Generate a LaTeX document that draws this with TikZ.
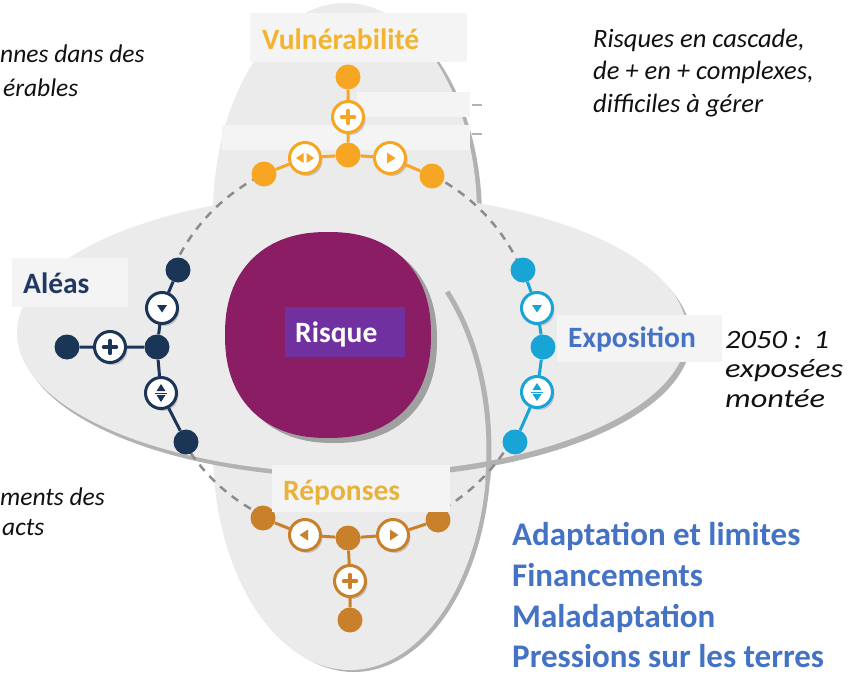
\documentclass[tikz,border=0pt]{standalone}
\usepackage{fontspec}
\setmainfont{Carlito}
\usetikzlibrary{shadows,calc}
\definecolor{petal}{HTML}{EBEBEB}
\definecolor{petalsh}{HTML}{B2B2B2}
\definecolor{lblbox}{HTML}{F4F4F4}
\definecolor{blobc}{HTML}{8A1D64}
\definecolor{blobsh}{HTML}{A0A0A0}
\definecolor{risqbox}{HTML}{7030A0}
\definecolor{vorange}{HTML}{F6A623}
\definecolor{vtxt}{HTML}{F3B32E}
\definecolor{anavy}{HTML}{1B3556}
\definecolor{atxt}{HTML}{1F3864}
\definecolor{ecyan}{HTML}{19A4D6}
\definecolor{etxt}{HTML}{4472C4}
\definecolor{rbrown}{HTML}{C9802B}
\definecolor{rtxt}{HTML}{E9B23C}
\definecolor{dashc}{HTML}{8C8C8C}
\definecolor{listblue}{HTML}{4472C4}
\definecolor{ittxt}{HTML}{111111}
\newcommand\lblfont{\fontsize{29.5}{31}\selectfont\bfseries}
\newcommand\itfnt{\fontsize{25.5}{30}\selectfont\itshape}
\newcommand\itbig{\fontsize{26.5}{30}\selectfont\itshape}
\newcommand\listfnt{\fontsize{33}{36}\selectfont\bfseries}
\newcommand\icplus[2]{\begin{scope}[shift={(#1)}]\draw[#2,line width=3.4pt,line cap=round] (-6.5,0)--(6.5,0) (0,-6.5)--(0,6.5);\end{scope}}
\newcommand\icdown[2]{\begin{scope}[shift={(#1)}]\fill[#2] (-5,-3)--(5,-3)--(0,4.5)--cycle;\end{scope}}
\newcommand\icud[2]{\begin{scope}[shift={(#1)}]\fill[#2] (-4.5,-2)--(4.5,-2)--(0,-9)--cycle (-4.5,2)--(4.5,2)--(0,9)--cycle;\draw[#2,line width=0.8pt] (-6,0)--(6,0);\end{scope}}
\newcommand\icright[2]{\begin{scope}[shift={(#1)}]\fill[#2] (-3,-5.5)--(-3,5.5)--(5.5,0)--cycle;\end{scope}}
\newcommand\icleft[2]{\begin{scope}[shift={(#1)}]\fill[#2] (3,-5.5)--(3,5.5)--(-5.5,0)--cycle;\end{scope}}
\newcommand\iclr[2]{\begin{scope}[shift={(#1)}]\fill[#2] (-1.5,-5)--(-1.5,5)--(-9,0)--cycle (1.5,-5)--(1.5,5)--(9,0)--cycle;\end{scope}}
\tikzset{
  dot/.style={circle,fill=#1,minimum size=25pt,inner sep=0pt},
  icon/.style={circle,draw=#1,line width=3pt,fill=white,minimum size=31pt,inner sep=0pt,
    drop shadow={opacity=0.35,shadow xshift=2pt,shadow yshift=-2.5pt}},
  link/.style={draw=#1,line width=3pt},
  ring/.style={draw=dashc,line width=2.5pt,dash pattern=on 8pt off 7pt},
  lbl/.style={font=\lblfont,inner sep=0pt,anchor=base west},
  itl/.style={font=\itfnt,text=ittxt,inner sep=0pt,anchor=base west},
  itr/.style={font=\itbig,text=ittxt,inner sep=0pt,anchor=base west},
  lst/.style={font=\listfnt,text=listblue,inner sep=0pt,anchor=base west},
}
\begin{document}
\begin{tikzpicture}[x=1pt,y=-1pt]
\useasboundingbox (0,0) rectangle (849,677);
\clip (0,0) rectangle (849,677);
\fill[white] (0,0) rectangle (849,677);
% top petal
\fill[petalsh] (350,218) ellipse[x radius=132,y radius=212];
\fill[petal] (345,215) ellipse[x radius=132,y radius=212];
% bottom petal
\fill[petalsh] (354,452) ellipse[x radius=137,y radius=220];
\fill[petal] (350,450) ellipse[x radius=137,y radius=220];
% horizontal petal
\fill[petalsh] (356,338) ellipse[x radius=335,y radius=140];
\fill[petal] (352,333) ellipse[x radius=335,y radius=140];
% right edge of the bottom petal, over the horizontal one
\draw[petalsh,line width=5pt] plot[domain=-46:8,samples=40] ({352+137*cos(\x)},{450+220*sin(\x)});
% faint label boxes
\fill[lblbox] (250,13) rectangle (467,62);
\fill[lblbox] (357,92) rectangle (470,117);
\fill[lblbox] (222,125) rectangle (470,150);
\draw[petalsh,line width=1.5pt] (472,105)--(482,105) (472,134)--(482,134);
\fill[lblbox] (12,258) rectangle (128,307);
\fill[lblbox] (557,315) rectangle (722,362);
% blob
\fill[blobsh] plot[variable=\t,domain=0.5:360.5,samples=121] ({334+103*sign(cos(\t))*pow(abs(cos(\t)),0.88)},{340+103*sign(sin(\t))*pow(abs(sin(\t)),0.88)}) -- cycle;
\fill[blobc] plot[variable=\t,domain=0.5:360.5,samples=121] ({328+103*sign(cos(\t))*pow(abs(cos(\t)),0.88)},{335+103*sign(sin(\t))*pow(abs(sin(\t)),0.88)}) -- cycle;
\fill[risqbox] (285,307) rectangle (405,357);
\node[lbl,text=white] (tR) at (295,342) {Risque};
% dashed ring
\draw[ring] plot[domain=-63.3:-23.1,samples=30] ({347+190*cos(\x)},{345+190*sin(\x)});
\draw[ring] plot[domain=30:62.5,samples=30] ({347+190*cos(\x)},{345+190*sin(\x)});
\draw[ring] plot[domain=115.9:148.9,samples=30] ({347+190*cos(\x)},{345+190*sin(\x)});
\draw[ring] plot[domain=203.9:244.1,samples=30] ({347+190*cos(\x)},{345+190*sin(\x)});
% Vulnerabilite branch
\node[dot=vorange] (VT) at (348,77) {};
\node[icon=vorange] (VP) at (348,117) {};
\node[dot=vorange] (V0) at (348,155) {};
\node[icon=vorange] (VIL) at (305,158) {};
\node[icon=vorange] (VIR) at (390,158) {};
\node[dot=vorange] (VL) at (264,174) {};
\node[dot=vorange] (VR) at (432,176) {};
\draw[link=vorange] (VL)--(VIL)--(V0)--(VIR)--(VR) (V0)--(VP)--(VT);
\icplus{VP}{vorange}\iclr{VIL}{vorange}\icright{VIR}{vorange}
% Aleas branch
\node[dot=anavy] (AT) at (178,270) {};
\node[icon=anavy] (AIT) at (162,308) {};
\node[dot=anavy] (A0) at (157,347) {};
\node[icon=anavy] (AIB) at (161,393) {};
\node[dot=anavy] (AB) at (186,442) {};
\node[icon=anavy] (AP) at (110,347) {};
\node[dot=anavy] (AL) at (67,347) {};
\draw[link=anavy] (AT)--(AIT)--(A0)--(AIB)--(AB) (A0)--(AP)--(AL);
\icdown{AIT}{anavy}\icud{AIB}{anavy}\icplus{AP}{anavy}
% Exposition branch
\node[dot=ecyan] (ET) at (523,270) {};
\node[icon=ecyan] (EIT) at (537,308) {};
\node[dot=ecyan] (E0) at (543,347) {};
\node[icon=ecyan] (EIB) at (537,392) {};
\node[dot=ecyan] (EB) at (515,442) {};
\draw[link=ecyan] (ET)--(EIT)--(E0)--(EIB)--(EB);
\icdown{EIT}{ecyan}\icud{EIB}{ecyan}
% Reponses branch
\node[dot=rbrown] (RL) at (263,518) {};
\node[icon=rbrown] (RIL) at (305,535) {};
\node[dot=rbrown] (R0) at (348,538) {};
\node[icon=rbrown] (RIR) at (393,535) {};
\node[dot=rbrown] (RR) at (438,520) {};
\node[icon=rbrown] (RP) at (350,581) {};
\node[dot=rbrown] (RB) at (350,620) {};
\draw[link=rbrown] (RL)--(RIL)--(R0)--(RIR)--(RR) (R0)--(RP)--(RB);
\icleft{RIL}{rbrown}\icright{RIR}{rbrown}\icplus{RP}{rbrown}
\fill[lblbox] (272,465) rectangle (450,512);
% labels
\node[lbl,text=vtxt] (tV) at (262,50) {Vulnérabilité};
\node[lbl,text=atxt] (tA) at (23,293) {Aléas};
\node[lbl,text=etxt] (tE) at (568,347) {Exposition};
\node[lbl,text=rtxt] (tRe) at (283,500) {Réponses};
% side texts
\node[itl] (l1) at (0,63) {nnes dans des};
\node[itl] (l2) at (3,96) {érables};
\node[itl] (b1) at (0,505) {ments des};
\node[itl] (b2) at (2,535) {acts};
\node[itr] (c1) at (593,48) {Risques en cascade,};
\node[itr] (c2) at (593,80) {de + en + complexes,};
\node[itr] (c3) at (593,112) {difficiles à gérer};
\node[itr] (e1) at (725,348) {\scalebox{1.15}[1]{2050 :\hspace{10pt}1}};
\node[itr] (e2) at (725,377) {\scalebox{1.22}[1]{exposées}};
\node[itr] (e3) at (725,407) {\scalebox{1.22}[1]{montée}};
\node[lst] (s1) at (512,545) {Adaptation et limites};
\node[lst] (s2) at (512,586) {Financements};
\node[lst] (s3) at (512,627) {Maladaptation};
\node[lst] (s4) at (512,667) {Pressions sur les terres};
\end{tikzpicture}
\end{document}
